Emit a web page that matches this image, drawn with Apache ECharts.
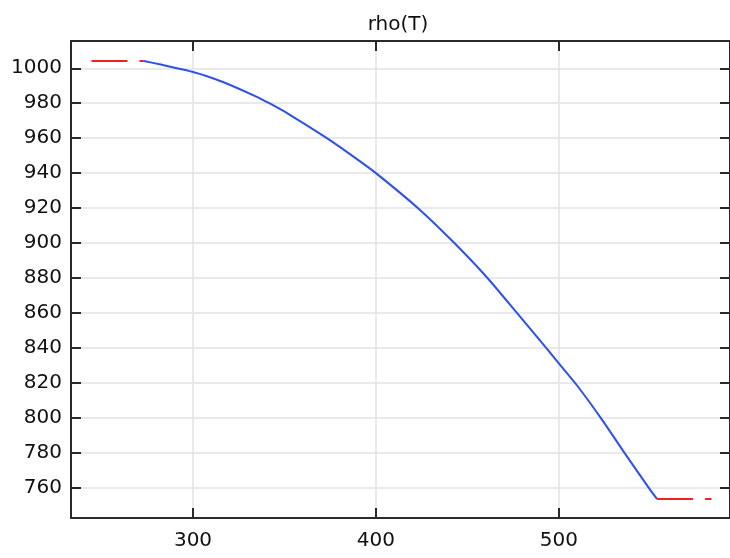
<!DOCTYPE html>
<html>
<head>
<meta charset="utf-8">
<title>rho(T)</title>
<script src="https://cdn.jsdelivr.net/npm/echarts@6/dist/echarts.min.js"></script>
<style>
    html, body { margin: 0; padding: 0; background: #fff; }
    #main { width: 730px; height: 558px; }
</style>
</head>
<body>
<div id="main"></div>
<script>
// 曲线数据 (T, rho)
var tempMain = [273.15, 300, 316, 334, 341.7, 352.3, 373.2, 388.3, 400, 423.5, 442.9, 461, 477.1, 493.1, 500, 510, 523.6, 536.2, 549.5, 553.75];
var rhoMain = [1004.2, 997.9, 992.3, 984.1, 980, 973.8, 960, 949, 940, 919.5, 900, 880, 860, 840, 831.2, 818.5, 799, 779.5, 759.5, 753.5];
// 两端外推 (红色虚线)
var tempLow = [244.5, 273.15];
var rhoLow = [1004.2, 1004.2];
var tempHigh = [553.75, 583.5];
var rhoHigh = [753.5, 753.5];
// 刻度
var xTicks = [300, 400, 500];
var yTicks = [760, 780, 800, 820, 840, 860, 880, 900, 920, 940, 960, 980, 1000];

function pairs(xs, ys) {
    var out = [];
    for (var i = 0; i < xs.length; i++) out.push([xs[i], ys[i]]);
    return out;
}

var font = 'DejaVu Sans';
var dark = '#2a2a2a';
var gridColor = '#e2e2e2';

function axisBase(pos, ticks, min, max, showLabel, showSplit, margin) {
    return {
        type: 'value',
        position: pos,
        min: min,
        max: max,
        axisLine: { show: true, onZero: false, lineStyle: { color: dark, width: 2 } },
        axisTick: {
            show: true, inside: true, length: 10,
            customValues: ticks,
            lineStyle: { color: dark, width: 2 }
        },
        axisLabel: {
            show: showLabel,
            customValues: ticks,
            formatter: function (v) { return String(v); },
            fontFamily: font,
            fontSize: 20,
            color: '#111',
            margin: margin
        },
        splitLine: { show: showSplit, lineStyle: { color: gridColor, width: 1.5 } }
    };
}

var myChart = echarts.init(document.getElementById('main'));
var option = {
    animation: false,
    backgroundColor: '#fff',
    title: {
        text: 'rho(T)',
        left: 393,
        textAlign: 'center',
        top: 10,
        textStyle: { fontFamily: font, fontSize: 20, fontWeight: 'normal', color: '#111' }
    },
    grid: { left: 71, top: 41, width: 664, height: 477 },
    xAxis: [
        axisBase('bottom', xTicks, 233.3, 593.6, true, true, 13),
        axisBase('top', xTicks, 233.3, 593.6, false, false, 8)
    ],
    yAxis: [
        axisBase('left', yTicks, 742.7, 1015.6, true, true, 9),
        axisBase('right', yTicks, 742.7, 1015.6, false, false, 8)
    ],
    series: [{
        type: 'line',
        data: pairs(tempMain, rhoMain),
        showSymbol: false,
        smooth: 0.25,
        lineStyle: { color: '#2e4ff0', width: 2 },
        z: 3
    }, {
        type: 'line',
        data: pairs(tempLow, rhoLow),
        showSymbol: false,
        lineStyle: { color: '#ee2222', width: 2, type: [36, 12] },
        z: 2
    }, {
        type: 'line',
        data: pairs(tempHigh, rhoHigh),
        showSymbol: false,
        lineStyle: { color: '#ee2222', width: 2, type: [36, 12] },
        z: 2
    }]
};
myChart.setOption(option);
</script>
</body>
</html>
